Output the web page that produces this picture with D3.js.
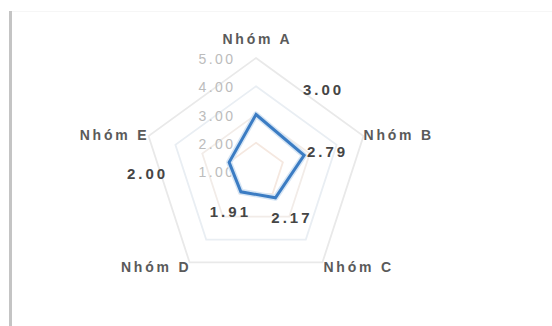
<!DOCTYPE html>
<html>
<head>
<meta charset="utf-8">
<script src="https://cdn.jsdelivr.net/npm/d3@7/dist/d3.min.js"></script>
<style>
  html, body { margin: 0; padding: 0; background: #fff; }
  svg { display: block; }
</style>
</head>
<body>
<svg id="chart" width="552" height="326"></svg>
<script>
// Radar chart data
const categories = ["Nhóm A", "Nhóm B", "Nhóm C", "Nhóm D", "Nhóm E"];
const values = [3.00, 2.79, 2.17, 1.91, 2.00];
const axisTicks = [1, 2, 3, 4, 5];
const tickLabels = ["1.00", "2.00", "3.00", "4.00", "5.00"];

// Layout
const width = 552, height = 326;
const cx = 256, cy = 171, R = 113;
const svg = d3.select("#chart");

// Frame: grey rule on the left, faint top edge
svg.append("line").attr("x1", 10.5).attr("x2", 10.5).attr("y1", 11).attr("y2", height)
  .attr("stroke", "#c4c4c4").attr("stroke-width", 3);
svg.append("line").attr("x1", 12).attr("x2", width).attr("y1", 11.5).attr("y2", 11.5)
  .attr("stroke", "#f6f6f6").attr("stroke-width", 1);

const r = d3.scaleLinear().domain([1, 5]).range([0, R]);
const n = categories.length;
const angle = i => i * 2 * Math.PI / n;           // 0 at 12 o'clock, clockwise
const pt = (i, rad) => [cx + rad * Math.sin(angle(i)), cy - rad * Math.cos(angle(i))];

// letter-spacing adds trailing space; shift anchors to keep text centred/flush
const lsShift = (anchor, ls) => anchor === "middle" ? ls / 2 : anchor === "end" ? ls : 0;

const g = svg.append("g");

// Grid rings
const ringColors = { 2: "#f5e8e0", 3: "#f2ece8", 4: "#e9eef3", 5: "#e9e9e9" };
const ring = d3.lineRadial().curve(d3.curveLinearClosed);
axisTicks.filter(t => t > 1).forEach(t => {
  g.append("path")
    .attr("transform", `translate(${cx},${cy})`)
    .attr("d", ring(categories.map((c, i) => [angle(i), r(t)])))
    .attr("fill", "none")
    .attr("stroke", ringColors[t])
    .attr("stroke-width", 1.8);
});

// Axis tick labels along the top axis
const tickLS = 2.4;
g.selectAll(".tick").data(axisTicks).join("text")
  .attr("x", cx - 23 + lsShift("end", tickLS))
  .attr("y", d => cy - r(d) + 1)
  .attr("text-anchor", "end")
  .attr("dominant-baseline", "central")
  .attr("font-family", "Liberation Sans, Arial, sans-serif")
  .attr("font-size", 14)
  .attr("letter-spacing", tickLS)
  .attr("fill", "#bcbcbc")
  .text((d, i) => tickLabels[i]);

// Series polygon
const seriesLine = d3.lineRadial().curve(d3.curveLinearClosed);
const seriesPath = seriesLine(values.map((v, i) => [angle(i), r(v)]));
g.append("path")
  .attr("transform", `translate(${cx},${cy})`)
  .attr("d", seriesPath)
  .attr("fill", "none")
  .attr("stroke", "#d6e5f4")
  .attr("stroke-width", 6)
  .attr("stroke-linejoin", "round");
g.append("path")
  .attr("transform", `translate(${cx},${cy})`)
  .attr("d", seriesPath)
  .attr("fill", "none")
  .attr("stroke", "#3b7cc3")
  .attr("stroke-width", 3)
  .attr("stroke-linejoin", "miter");

// Category labels just outside each outer vertex
const catLS = 2.8;
const catPlace = [
  { dx: 0, dy: -19, anchor: "middle" },
  { dx: 0, dy: -1, anchor: "start" },
  { dx: 1, dy: 5, anchor: "start" },
  { dx: -1, dy: 5, anchor: "end" },
  { dx: -2, dy: -1, anchor: "end" }
];
g.selectAll(".cat").data(categories).join("text")
  .attr("x", (d, i) => pt(i, R)[0] + catPlace[i].dx + lsShift(catPlace[i].anchor, catLS))
  .attr("y", (d, i) => pt(i, R)[1] + catPlace[i].dy)
  .attr("text-anchor", (d, i) => catPlace[i].anchor)
  .attr("dominant-baseline", "central")
  .attr("font-family", "Liberation Sans, Arial, sans-serif")
  .attr("font-weight", "bold")
  .attr("font-size", 14)
  .attr("letter-spacing", catLS)
  .attr("fill", "#5a5a5a")
  .text(d => d);

// Value labels, offset from each data point
const valLS = 3;
const valOffset = [[66, -25], [22, -4], [15, 20], [-12, 20], [-83, 11]];
g.selectAll(".val").data(values).join("text")
  .attr("x", (d, i) => pt(i, r(d))[0] + valOffset[i][0] + lsShift("middle", valLS))
  .attr("y", (d, i) => pt(i, r(d))[1] + valOffset[i][1])
  .attr("text-anchor", "middle")
  .attr("dominant-baseline", "central")
  .attr("font-family", "Liberation Sans, Arial, sans-serif")
  .attr("font-weight", "bold")
  .attr("font-size", 15)
  .attr("letter-spacing", valLS)
  .attr("fill", "#454545")
  .text(d => d.toFixed(2));
</script>
</body>
</html>
